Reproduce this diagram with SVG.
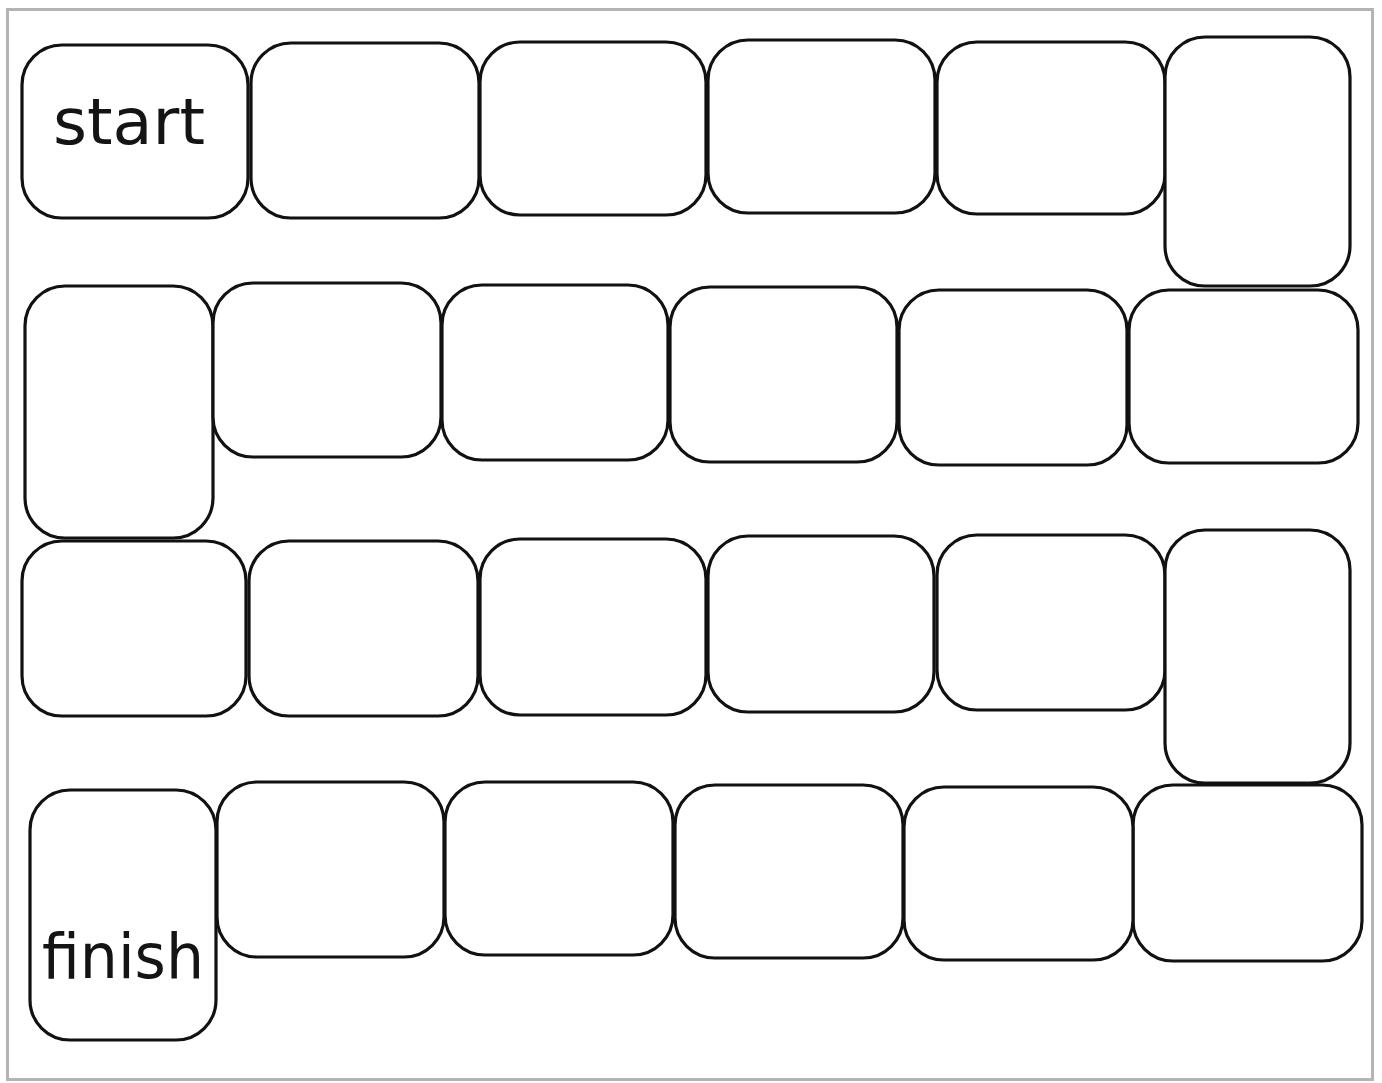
<svg xmlns="http://www.w3.org/2000/svg" width="1382" height="1083" viewBox="0 0 1382 1083">
<style>
.b{fill:#fff;stroke:#111;stroke-width:3.2}
.t{font-family:"DejaVu Sans","Liberation Sans",sans-serif;fill:#141414}
</style>
<rect width="1382" height="1083" fill="#fff"/>
<rect x="7.5" y="9.5" width="1365" height="1070" fill="#fff" stroke="#b4b4b4" stroke-width="3"/>
<g id="row1">
<g id="start"><rect class="b" x="22" y="45" width="226" height="173" rx="40"/><text class="t" x="53" y="144" font-size="64" textLength="152" lengthAdjust="spacingAndGlyphs">start</text></g>
<g id="s2"><rect class="b" x="251" y="43" width="228" height="175" rx="40"/></g>
<g id="s3"><rect class="b" x="480" y="42" width="226" height="173" rx="40"/></g>
<g id="s4"><rect class="b" x="708" y="40" width="227" height="173" rx="40"/></g>
<g id="s5"><rect class="b" x="937" y="42" width="228" height="172" rx="40"/></g>
<g id="s6"><rect class="b" x="1165" y="37" width="185" height="249" rx="40"/></g>
</g>
<g id="row2">
<g id="s12"><rect class="b" x="25" y="286" width="188" height="252" rx="40"/></g>
<g id="s11"><rect class="b" x="213" y="283" width="228" height="174" rx="40"/></g>
<g id="s10"><rect class="b" x="442" y="285" width="226" height="175" rx="40"/></g>
<g id="s9"><rect class="b" x="670" y="287" width="227" height="175" rx="40"/></g>
<g id="s8"><rect class="b" x="899" y="290" width="228" height="175" rx="40"/></g>
<g id="s7"><rect class="b" x="1129" y="290" width="229" height="173" rx="40"/></g>
</g>
<g id="row3">
<g id="s13"><rect class="b" x="22" y="541" width="224" height="175" rx="40"/></g>
<g id="s14"><rect class="b" x="249" y="541" width="229" height="175" rx="40"/></g>
<g id="s15"><rect class="b" x="480" y="539" width="226" height="176" rx="40"/></g>
<g id="s16"><rect class="b" x="708" y="536" width="226" height="176" rx="40"/></g>
<g id="s17"><rect class="b" x="937" y="535" width="228" height="175" rx="40"/></g>
<g id="s18"><rect class="b" x="1165" y="530" width="185" height="253" rx="40"/></g>
</g>
<g id="row4">
<g id="s24"><rect class="b" x="1133" y="785" width="229" height="176" rx="40"/></g>
<g id="s23"><rect class="b" x="904" y="787" width="229" height="173" rx="40"/></g>
<g id="s22"><rect class="b" x="675" y="785" width="228" height="173" rx="40"/></g>
<g id="s21"><rect class="b" x="445" y="782" width="228" height="173" rx="40"/></g>
<g id="s20"><rect class="b" x="217" y="782" width="227" height="175" rx="40"/></g>
<g id="finish"><rect class="b" x="30" y="790" width="186" height="250" rx="40"/><text class="t" x="42" y="978" font-size="62" textLength="162" lengthAdjust="spacingAndGlyphs">finish</text></g>
</g>
</svg>
